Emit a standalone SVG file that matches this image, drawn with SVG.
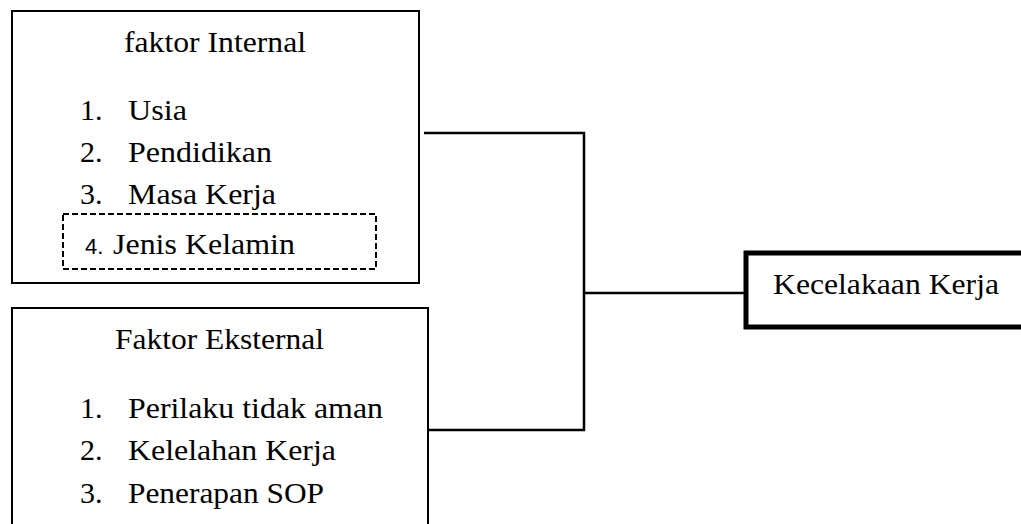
<svg xmlns="http://www.w3.org/2000/svg" width="1021" height="524" viewBox="0 0 1021 524">
<style>
.box{fill:#fff;stroke:#000;stroke-width:2}
.thick{fill:#fff;stroke:#000;stroke-width:5}
.dash{fill:none;stroke:#000;stroke-width:2;stroke-dasharray:6 3}
.t{font-family:"Liberation Serif","Times New Roman",serif;font-size:30px;fill:#000}
.s{font-family:"Liberation Sans",Arial,sans-serif;font-size:22px;fill:#000}
.c{fill:none;stroke:#000;stroke-width:2.5}
</style>
<rect width="1021" height="524" fill="#fff"/>
<g id="internal">
<rect class="box" x="12" y="11" width="407" height="272"/>
<text class="t" x="124" y="52" textLength="182" lengthAdjust="spacingAndGlyphs">faktor Internal</text>
<text class="t" x="80" y="120">1.</text><text class="t" x="128" y="120" textLength="59" lengthAdjust="spacingAndGlyphs">Usia</text>
<text class="t" x="80" y="162">2.</text><text class="t" x="128" y="162" textLength="144" lengthAdjust="spacingAndGlyphs">Pendidikan</text>
<text class="t" x="80" y="204">3.</text><text class="t" x="128" y="204" textLength="148" lengthAdjust="spacingAndGlyphs">Masa Kerja</text>
<rect class="dash" x="63" y="214" width="313" height="55"/>
<text class="s" x="85" y="254">4.</text><text class="t" x="113" y="254" textLength="182" lengthAdjust="spacingAndGlyphs">Jenis Kelamin</text>
</g>
<g id="eksternal">
<rect class="box" x="12" y="308" width="416" height="230"/>
<text class="t" x="115" y="349" textLength="209" lengthAdjust="spacingAndGlyphs">Faktor Eksternal</text>
<text class="t" x="80" y="418">1.</text><text class="t" x="128" y="418" textLength="255" lengthAdjust="spacingAndGlyphs">Perilaku tidak aman</text>
<text class="t" x="80" y="460">2.</text><text class="t" x="128" y="460" textLength="208" lengthAdjust="spacingAndGlyphs">Kelelahan Kerja</text>
<text class="t" x="80" y="503">3.</text><text class="t" x="128" y="503" textLength="196" lengthAdjust="spacingAndGlyphs">Penerapan SOP</text>
</g>
<g id="connectors">
<polyline class="c" points="424,133 584,133 584,430 428,430"/>
<line class="c" x1="584" y1="293" x2="746" y2="293"/>
</g>
<g id="kecelakaan">
<rect class="thick" x="746" y="253" width="290" height="74"/>
<text class="t" x="773" y="294" textLength="226" lengthAdjust="spacingAndGlyphs">Kecelakaan Kerja</text>
</g>
</svg>
